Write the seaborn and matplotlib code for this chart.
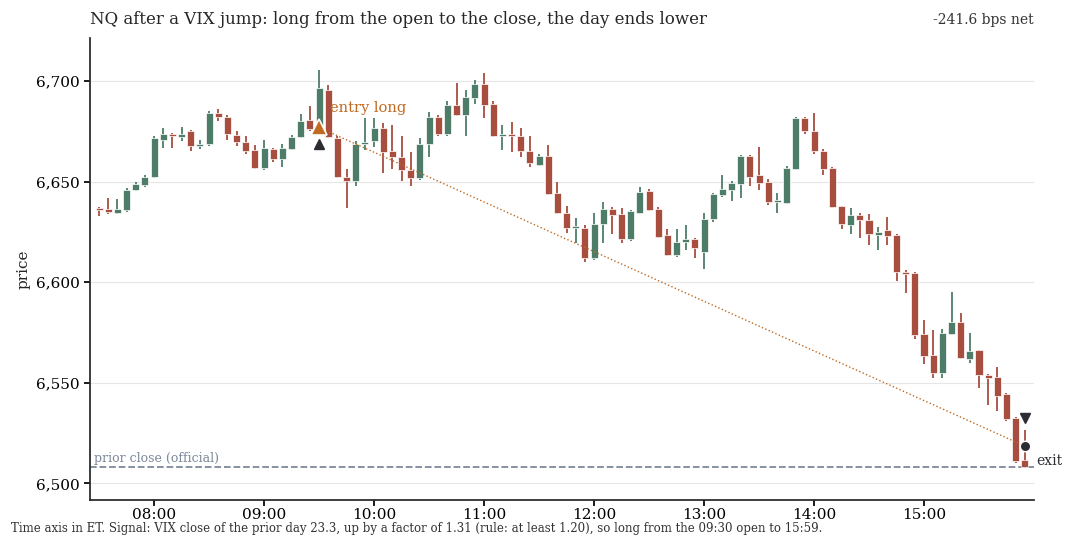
import numpy as np
import pandas as pd
import seaborn as sns
import matplotlib.pyplot as plt
from matplotlib.ticker import FuncFormatter

# 5-minute bars, 07:30 .. 15:55 ET
bar_times = pd.date_range("2024-01-01 07:30", periods=102, freq="5min")

opens = [6637, 6636.5, 6634.5, 6636, 6646, 6648.5, 6652.5, 6671, 6674, 6672.5,
         6675, 6668, 6669, 6684, 6682, 6673.5, 6670, 6666, 6657, 6666.5,
         6661.5, 6666.5, 6672.5, 6680.5, 6677.5, 6695.5, 6672, 6652.5, 6650.5, 6669,
         6670.3, 6676.5, 6665.5, 6662.5, 6656, 6652, 6669, 6682, 6673.6, 6688,
         6683.2, 6691.5, 6698.5, 6688.5, 6673, 6674, 6673, 6665.3, 6658.2, 6663,
         6644.3, 6634.7, 6627, 6627.2, 6612, 6629, 6636.3, 6633.8, 6621.4, 6634.3,
         6645.4, 6636.3, 6623.4, 6613.4, 6620, 6621.4, 6615, 6631.3, 6643.5, 6646,
         6649.1, 6662.8, 6653.2, 6650, 6639.8, 6639.3, 6656.2, 6681.6, 6675.3, 6665.3,
         6656.7, 6637.7, 6628.5, 6633.3, 6630.8, 6623.5, 6626, 6623.4, 6605, 6604.5,
         6574.1, 6563.7, 6554.7, 6574.3, 6580.2, 6561.7, 6566.3, 6553.9, 6552.9, 6544.3,
         6532.3, 6511.4]
highs = [6637.5, 6642, 6641.5, 6647, 6650, 6653.5, 6673, 6676.5, 6674.5, 6677,
         6675.5, 6671, 6685, 6686, 6683, 6675, 6673, 6668.5, 6671, 6667,
         6669, 6673.5, 6683.5, 6687.5, 6705.5, 6698, 6673, 6656.5, 6670.5, 6681.5,
         6681.5, 6679, 6678, 6673, 6665, 6672, 6684.5, 6683, 6690, 6699,
         6695.7, 6700.7, 6704.3, 6690, 6678, 6679.5, 6676.5, 6673, 6664, 6668.5,
         6650, 6638, 6632, 6628.5, 6634.5, 6639.7, 6637.2, 6637, 6636, 6647.6,
         6646.5, 6637.5, 6626.4, 6626.4, 6628.5, 6622.2, 6634.3, 6644.5, 6653.2, 6650.4,
         6663.3, 6663.3, 6667.5, 6651.2, 6644.3, 6658, 6682.4, 6682, 6684, 6666.5,
         6657.2, 6638, 6636.7, 6634.7, 6633.8, 6627.5, 6632.7, 6624, 6606, 6605,
         6581.2, 6576.3, 6576.6, 6595, 6584.6, 6575, 6566.5, 6554.5, 6558, 6544.8,
         6533, 6526.5]
lows = [6633, 6634, 6634, 6635, 6645.5, 6647.5, 6652, 6667, 6667, 6670.5,
        6665.5, 6666.5, 6668, 6680, 6671, 6668, 6664, 6656.5, 6656, 6660,
        6657.5, 6666, 6672, 6675, 6675, 6672, 6652, 6637, 6648, 6666,
        6667.5, 6654.5, 6656.5, 6650.5, 6648, 6651, 6662.5, 6673, 6673, 6682.5,
        6673, 6688.5, 6681.5, 6672.5, 6666, 6665, 6662.5, 6657.5, 6658, 6643.5,
        6633.8, 6624.7, 6619.5, 6610.3, 6611, 6619.5, 6624, 6619.5, 6620.5, 6634,
        6635.5, 6622, 6613, 6612.8, 6616, 6612, 6606.5, 6630, 6642.6, 6640.5,
        6642, 6648, 6645.8, 6638.3, 6634.7, 6639, 6656, 6673.6, 6663.7, 6653.2,
        6637, 6626.4, 6624, 6622.2, 6618.4, 6616, 6618.6, 6600.6, 6594.5, 6571.6,
        6559.2, 6552.2, 6552.2, 6574, 6561.7, 6560, 6547.6, 6539, 6536, 6531,
        6510, 6507.5]
closes = [6636, 6635, 6636.3, 6646, 6649, 6652.5, 6672, 6674, 6673, 6674,
          6668, 6669, 6684, 6682, 6674, 6670, 6665.5, 6657, 6667, 6661.5,
          6667, 6672.5, 6680, 6676, 6696.5, 6672.5, 6652.5, 6650.5, 6669, 6670,
          6676.5, 6665, 6662.5, 6656, 6652, 6669, 6682, 6673.6, 6688, 6683.2,
          6692.2, 6698.5, 6688.2, 6673, 6674, 6673, 6665.3, 6659.2, 6662.8, 6644,
          6634.3, 6627.2, 6628, 6612.3, 6629, 6636.3, 6633.5, 6621.4, 6635.5, 6645,
          6636, 6622.7, 6613.4, 6619.8, 6621.4, 6616.8, 6631.7, 6643.8, 6646.3, 6649.3,
          6662.8, 6652.6, 6649.6, 6640, 6640.4, 6656.6, 6681.6, 6675.3, 6665.3, 6656.2,
          6637.5, 6629.2, 6633.3, 6631, 6623.9, 6625.2, 6623, 6605.1, 6604, 6573.6,
          6563.3, 6554.7, 6574.6, 6580.2, 6562.5, 6565.8, 6553.7, 6552.6, 6543.4, 6531.8,
          6510.9, 6508]

prior_close = 6508.0
entry_time, entry_price = "09:30", 6677.0
exit_time, exit_price = "15:55", 6518.5
net_bps = -241.6
tick_hours = [8, 9, 10, 11, 12, 13, 14, 15]

GREEN = "#4d7d68"
RED = "#a74e3f"
ORANGE = "#c06a22"
DARK = "#2b2d33"

df = pd.DataFrame({"time": bar_times, "open": opens, "high": highs,
                   "low": lows, "close": closes})
df["x"] = df["time"].dt.hour + df["time"].dt.minute / 60.0
df["up"] = df["close"] >= df["open"]
df["color"] = np.where(df["up"], GREEN, RED)

sns.set_theme(style="ticks")
plt.rcParams["font.family"] = ["DejaVu Serif"]

fig, ax = plt.subplots(figsize=(10.8, 5.4), dpi=100)
fig.subplots_adjust(left=0.0833, right=0.9574, top=0.9296, bottom=0.0741)

ax.grid(axis="y", color="#e6e6e6", linewidth=0.8)
ax.set_axisbelow(True)

# wicks then bodies
ax.vlines(df["x"], df["low"], df["high"], colors=df["color"], linewidth=1.3, zorder=2)
body_low = np.minimum(df["open"], df["close"])
body_h = np.maximum(np.abs(df["close"] - df["open"]), 0.9)
ax.bar(df["x"], body_h, bottom=body_low, width=0.064, color=df["color"],
       edgecolor="white", linewidth=0.5, zorder=3)

# prior close
ax.axhline(prior_close, color="#7d8898", linestyle="--", linewidth=1.3, zorder=1)
ax.text(7.45, prior_close + 1.2, "prior close (official)", color="#7d8898",
        fontsize=9, ha="left", va="bottom")

def to_hours(s):
    h, m = s.split(":")
    return int(h) + int(m) / 60.0

xe, xx = to_hours(entry_time), to_hours(exit_time)
entry_low = df.loc[df["x"] == xe, "low"].iloc[0]
exit_high = df.loc[df["x"] == xx, "high"].iloc[0]

sns.lineplot(x=[xe, xx], y=[entry_price, exit_price], ax=ax, color=ORANGE,
             linestyle=":", linewidth=1.0, zorder=4)
ax.plot(xe, entry_price, marker="^", markersize=11, color=ORANGE,
        markeredgecolor="white", markeredgewidth=1.2, zorder=6)
ax.plot(xe, entry_low - 6, marker="^", markersize=6.5, color=DARK, zorder=6)
ax.plot(xx, exit_high + 6, marker="v", markersize=6.5, color=DARK, zorder=6)
ax.plot(xx, exit_price, marker="o", markersize=7.5, color=DARK,
        markeredgecolor="white", markeredgewidth=1.0, zorder=6)

ax.text(xe + 0.1, entry_price + 9.5, "entry long", color=ORANGE, fontsize=10.5,
        ha="left", va="center")
ax.text(16.02, exit_price - 7.5, "exit", color=DARK, fontsize=10,
        ha="left", va="center", clip_on=False)

ax.set_xlim(7 + 25 / 60, 16.0)
ax.set_ylim(6491.7, 6721.5)
ax.set_xticks(tick_hours)
ax.set_xticklabels([f"{h:02d}:00" for h in tick_hours])
ax.set_yticks([6500, 6550, 6600, 6650, 6700])
ax.yaxis.set_major_formatter(FuncFormatter(lambda v, p: f"{v:,.0f}"))
ax.tick_params(axis="both", labelsize=11, colors="black", length=4)
ax.tick_params(axis="x", pad=2)
ax.set_ylabel("price", fontsize=11)
ax.set_xlabel("")
sns.despine(ax=ax)

ax.set_title("NQ after a VIX jump: long from the open to the close, the day ends lower",
             loc="left", fontsize=12, pad=10)
ax.set_title(f"{net_bps:.1f} bps net", loc="right", fontsize=10, color="#333333", pad=10)

fig.text(0.01, 0.021,
         "Time axis in ET. Signal: VIX close of the prior day 23.3, up by a factor of 1.31 "
         "(rule: at least 1.20), so long from the 09:30 open to 15:59.",
         fontsize=8.5, color="#333333", ha="left", va="center")

fig.savefig("out.png", dpi=100)
plt.close(fig)
